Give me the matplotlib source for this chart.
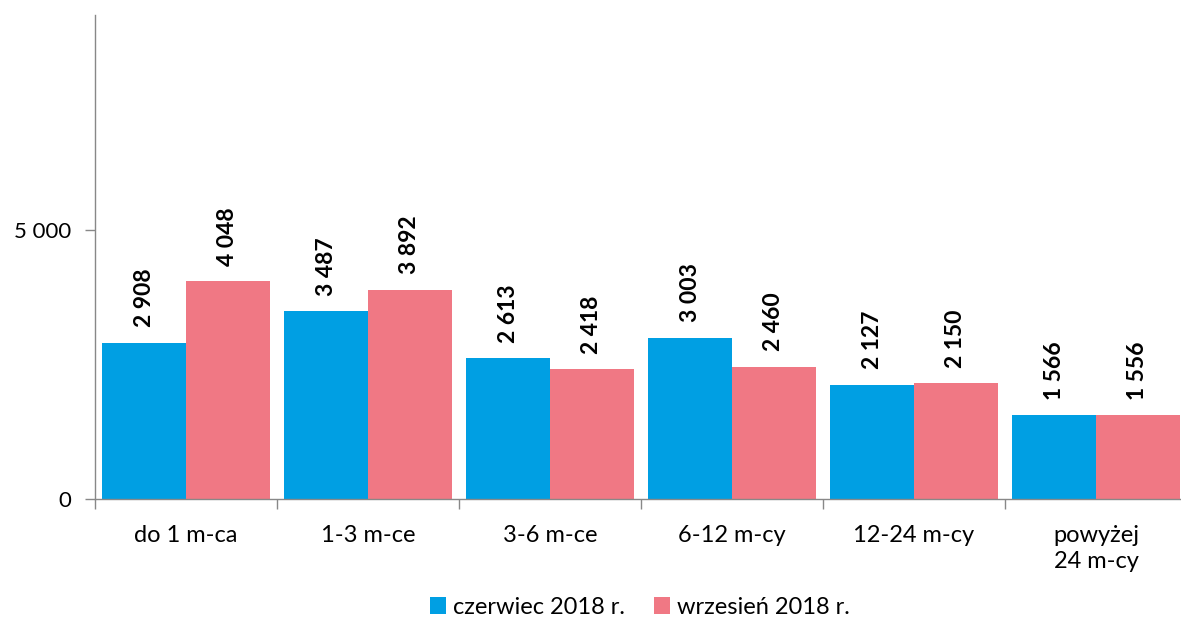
import matplotlib
matplotlib.use("Agg")
import matplotlib.pyplot as plt
import numpy as np

categories = ["do 1 m-ca", "1-3 m-ce", "3-6 m-ce", "6-12 m-cy", "12-24 m-cy", "powyżej\n24 m-cy"]
series_names = ["czerwiec 2018 r.", "wrzesień 2018 r."]
czerwiec = [2908, 3487, 2613, 3003, 2127, 1566]
wrzesien = [4048, 3892, 2418, 2460, 2150, 1556]
colors = ["#009FE3", "#F07884"]

plt.rcParams['font.family'] = ['Lato', 'DejaVu Sans']

fig = plt.figure(figsize=(11.81, 6.19), dpi=100)
ax = fig.add_axes([95/1181, 120/619, 1092/1181, 484/619])

x = np.arange(len(categories))
w = 0.46
b1 = ax.bar(x - w/2, czerwiec, width=w, color=colors[0], label=series_names[0])
b2 = ax.bar(x + w/2, wrzesien, width=w, color=colors[1], label=series_names[1])

def fmt(v):
    return f"{v:,}".replace(",", " ")

for bars, vals in ((b1, czerwiec), (b2, wrzesien)):
    for r, v in zip(bars, vals):
        ax.annotate(fmt(v), (r.get_x() + r.get_width()/2, v), xytext=(0, 11),
                    textcoords="offset points", rotation=90, ha="center", va="bottom",
                    fontsize=16.5, fontweight="bold", color="black")

ax.set_xlim(-0.5, 5.5)
ax.set_ylim(0, 9000)
ax.set_yticks([0, 5000])
ax.set_yticklabels(["0", "5 000"], fontsize=16)
ax.set_xticks(x)
ax.set_xticklabels(categories, fontsize=17, linespacing=1.3)
ax.set_xticks(np.arange(-0.5, 6.0, 1.0), minor=True)
ax.tick_params(axis="x", which="major", length=0, pad=19)
ax.tick_params(axis="x", which="minor", length=7, color="#888888", width=1)
ax.tick_params(axis="y", length=7, color="#888888", width=1, pad=10)

for s in ["top", "right"]:
    ax.spines[s].set_visible(False)
for s in ["left", "bottom"]:
    ax.spines[s].set_color("#888888")
    ax.spines[s].set_linewidth(1)

fig.legend(handles=[b1, b2], labels=series_names, loc="center", bbox_to_anchor=(640/1181, 1 - 607/619),
           ncol=2, frameon=False, fontsize=17, handlelength=0.7, handleheight=0.7,
           handletextpad=0.3, columnspacing=1.2)

fig.savefig("out.png", dpi=100)
